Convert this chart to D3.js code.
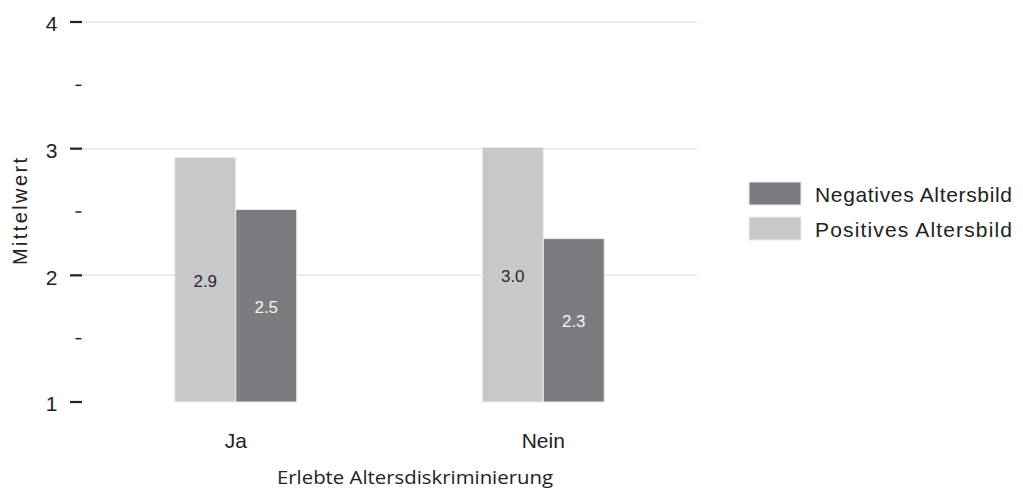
<!DOCTYPE html>
<html>
<head>
<meta charset="utf-8">
<script src="https://cdn.jsdelivr.net/npm/d3@7"></script>
<style>
  html, body { margin: 0; padding: 0; background: #fff; }
  svg { display: block; font-family: "Liberation Sans", Arial, sans-serif; }
</style>
</head>
<body>
<svg id="chart" width="1023" height="491"></svg>
<script>
const categories = ["Ja", "Nein"];
const seriesNames = ["Positives Altersbild", "Negatives Altersbild"];
const positiveValues = [2.93, 3.01];
const negativeValues = [2.52, 2.29];
const majorTicks = [1, 2, 3, 4];
const minorTicks = [1.5, 2.5, 3.5];
const legendOrder = ["Negatives Altersbild", "Positives Altersbild"];

const colors = { "Positives Altersbild": "#c8c8ca", "Negatives Altersbild": "#7b7c80" };
const labelColors = { "Positives Altersbild": "#2a2a2a", "Negatives Altersbild": "#f4f4f4" };

const svg = d3.select("#chart");
const plot = { left: 82, right: 697, top: 22, bottom: 402 };

const y = d3.scaleLinear().domain([1, 4]).range([plot.bottom, plot.top]);
const x0 = d3.scaleBand().domain(categories).range([plot.left, plot.right]).paddingInner(0).paddingOuter(0);
const groupWidth = 122;
const x1 = d3.scaleBand().domain(seriesNames).range([0, groupWidth]);

// gridlines
svg.append("g").selectAll("line").data(majorTicks.filter(d => d > 1)).join("line")
  .attr("x1", plot.left).attr("x2", plot.right)
  .attr("y1", d => y(d)).attr("y2", d => y(d))
  .attr("stroke", "#e6e6e6").attr("stroke-width", 1.5);

// y axis ticks
const yAxis = svg.append("g");
yAxis.selectAll("line.major").data(majorTicks).join("line").attr("class", "major")
  .attr("x1", 70).attr("x2", 82).attr("y1", d => y(d)).attr("y2", d => y(d))
  .attr("stroke", "#222").attr("stroke-width", 2.2);
yAxis.selectAll("line.minor").data(minorTicks).join("line").attr("class", "minor")
  .attr("x1", 75.5).attr("x2", 81.5).attr("y1", d => y(d)).attr("y2", d => y(d))
  .attr("stroke", "#222").attr("stroke-width", 1.5);
yAxis.selectAll("text").data(majorTicks).join("text")
  .attr("x", 57.5).attr("y", d => y(d)).attr("dy", "0.45em")
  .attr("text-anchor", "end").attr("font-size", 21).attr("fill", "#222")
  .text(d => d);

svg.append("text")
  .attr("transform", `translate(26.5,${211.5}) rotate(-90)`)
  .attr("text-anchor", "middle").attr("font-size", 20).attr("fill", "#222")
  .attr("textLength", 107).attr("lengthAdjust", "spacing")
  .text("Mittelwert");

// bars
const rows = categories.map((c, i) => ({
  cat: c,
  vals: [
    { s: "Positives Altersbild", v: positiveValues[i] },
    { s: "Negatives Altersbild", v: negativeValues[i] }
  ]
}));

const groups = svg.append("g").selectAll("g").data(rows).join("g")
  .attr("transform", d => `translate(${x0(d.cat) + x0.bandwidth() / 2 - groupWidth / 2},0)`);

groups.selectAll("rect").data(d => d.vals).join("rect")
  .attr("x", d => x1(d.s)).attr("width", x1.bandwidth())
  .attr("y", d => y(d.v)).attr("height", d => y(1) - y(d.v))
  .attr("fill", d => colors[d.s]).attr("stroke", "#ececec").attr("stroke-width", 1);

groups.selectAll("text").data(d => d.vals).join("text")
  .attr("x", d => x1(d.s) + x1.bandwidth() / 2)
  .attr("y", d => (y(d.v) + y(1)) / 2).attr("dy", "0.42em")
  .attr("text-anchor", "middle").attr("font-size", 17)
  .attr("fill", d => labelColors[d.s])
  .text(d => d.v.toFixed(1));

// x labels
svg.append("g").selectAll("text").data(categories).join("text")
  .attr("x", d => x0(d) + x0.bandwidth() / 2).attr("y", 448)
  .attr("text-anchor", "middle").attr("font-size", 21).attr("fill", "#222")
  .text(d => d);

svg.append("text")
  .attr("x", 415).attr("y", 484)
  .attr("text-anchor", "middle").attr("font-size", 19).attr("fill", "#222")
  .style("font-family", "'Open Sans', 'Noto Sans', sans-serif")
  .attr("textLength", 276).attr("lengthAdjust", "spacingAndGlyphs")
  .text("Erlebte Altersdiskriminierung");

// legend
const legend = svg.append("g").selectAll("g").data(legendOrder).join("g")
  .attr("transform", (d, i) => `translate(749,${182 + i * 35})`);
legend.append("rect").attr("width", 52).attr("height", 23)
  .attr("fill", d => colors[d]).attr("stroke", "#ececec").attr("stroke-width", 1);
legend.append("text").attr("x", 66).attr("y", 19.7)
  .attr("font-size", 21).attr("fill", "#222")
  .attr("textLength", 197).attr("lengthAdjust", "spacing")
  .text(d => d);
</script>
</body>
</html>
